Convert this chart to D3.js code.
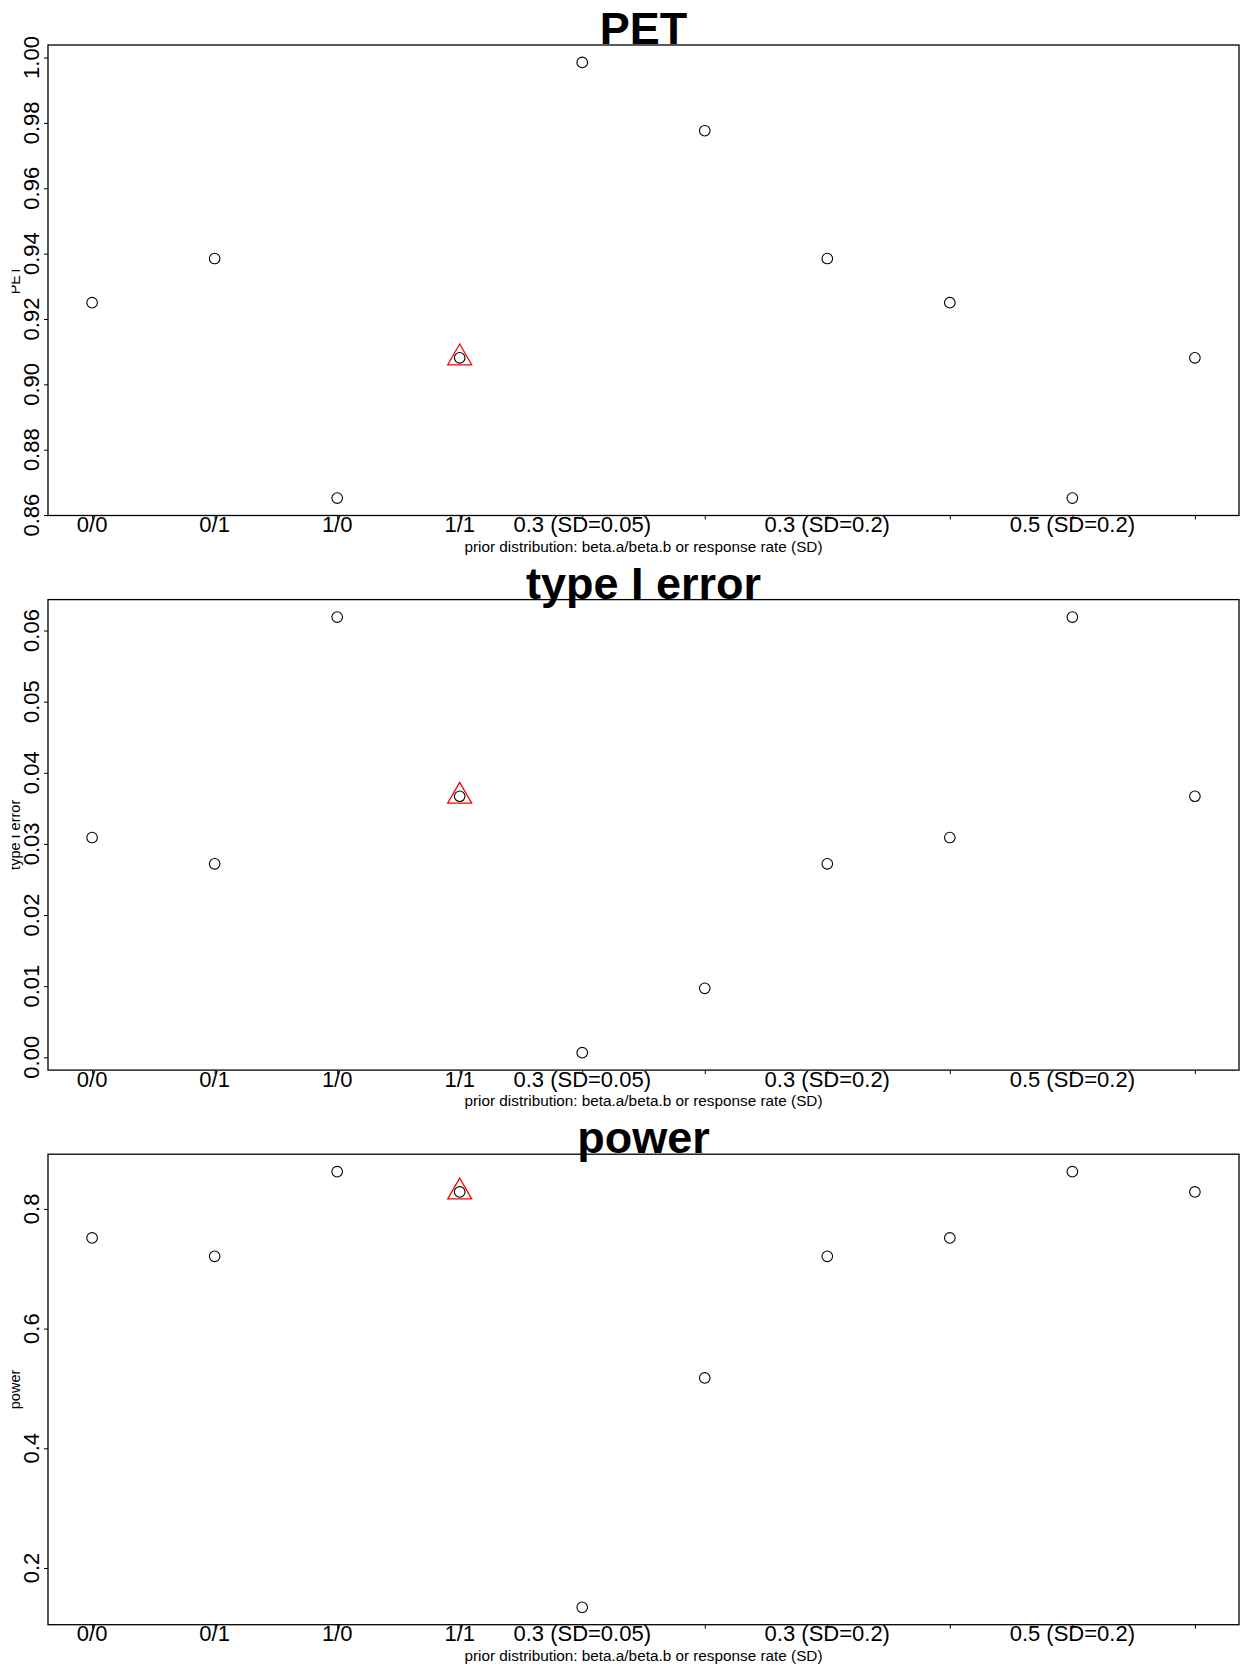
<!DOCTYPE html>
<html>
<head>
<meta charset="utf-8">
<script src="https://cdn.jsdelivr.net/npm/d3@7"></script>
<style>
  body { margin: 0; background: white; }
  text { font-family: "Liberation Sans", Arial, sans-serif; }
</style>
</head>
<body>
<svg id="graph"></svg>
<script>
const width = 1248;
const height = 1669;

// x positions (R style 1..n) and the tick labels that survive overlap
const xPos = [1, 2, 3, 4, 5, 6, 7, 8, 9, 10];
const tickLabels = ["0/0", "0/1", "1/0", "1/1", "0.3 (SD=0.05)", "", "0.3 (SD=0.2)", "", "0.5 (SD=0.2)", ""];
const highlight = 3;   // the 1/1 prior gets the red triangle

const petValues   = [0.925, 0.9385, 0.8652, 0.9081, 0.9985, 0.9776, 0.9385, 0.925, 0.8652, 0.9081];
const typeIValues = [0.0309, 0.0272, 0.0619, 0.0367, 0.00065, 0.0097, 0.0272, 0.0309, 0.0619, 0.0367];
const powerValues = [0.7515, 0.7208, 0.8623, 0.8284, 0.1343, 0.5176, 0.7208, 0.7515, 0.8623, 0.8284];

const petTicks   = [0.86, 0.88, 0.90, 0.92, 0.94, 0.96, 0.98, 1.00];
const typeITicks = [0.00, 0.01, 0.02, 0.03, 0.04, 0.05, 0.06];
const powerTicks = [0.2, 0.4, 0.6, 0.8];

const xTitle = "prior distribution: beta.a/beta.b or response rate (SD)";

let svg = d3.select('#graph')
        .attr('width', width)
        .attr('height', height);

// the y titles are cut on the left in the original
svg.append("defs").append("clipPath").attr("id", "ylabclip")
        .append("rect").attr("x", 11.7).attr("y", 0).attr("width", 40).attr("height", height);

const left = 48;
const right = 1239;
const pitch = 554.6;
const topOff = 45;
const plotH = 470.5;

// same as R: pad the range 4% each side
function pad(ext) {
        let d = (ext[1] - ext[0]) * 0.04;
        return [ext[0] - d, ext[1] + d];
}

let xScale = d3.scaleLinear().domain(pad([1, 10])).range([left, right]);

function addPanel(k, title, values, ticks, fmt) {
        let top = k * pitch + topOff;
        let bottom = top + plotH;
        let yScale = d3.scaleLinear().domain(pad(d3.extent(values))).range([bottom, top]);
        let g = svg.append("g");

        //////// y axis
        let yAxis = d3.axisLeft(yScale).tickValues(ticks).tickSize(4).tickFormat("");
        let ya = g.append("g").attr("transform", `translate(${left},0)`).call(yAxis);
        ya.select(".domain").remove();
        ya.selectAll("line").attr("stroke", "black").attr("stroke-width", 1);

        g.selectAll(".ylab")
                .data(ticks)
                .enter()
                .append("text")
                .attr("transform", d => `translate(38.5,${yScale(d)}) rotate(-90)`)
                .attr("text-anchor", "middle")
                .style("font-size", "22px")
                .text(d => fmt(d));

        //////// x axis
        let xAxis = d3.axisBottom(xScale).tickValues(xPos).tickSize(4).tickFormat("");
        let xa = g.append("g").attr("transform", `translate(0,${bottom})`).call(xAxis);
        xa.select(".domain").remove();
        xa.selectAll("line").attr("stroke", "black").attr("stroke-width", 1);

        g.selectAll(".xlab")
                .data(xPos)
                .enter()
                .append("text")
                .attr("x", d => xScale(d))
                .attr("y", bottom + 16.5)
                .attr("text-anchor", "middle")
                .style("font-size", "22px")
                .text((d, i) => tickLabels[i]);

        g.append("text")
                .attr("x", (left + right) / 2)
                .attr("y", bottom + 36)
                .attr("text-anchor", "middle")
                .style("font-size", "15.3px")
                .text(xTitle);

        g.append("g").attr("clip-path", "url(#ylabclip)")
                .append("text")
                .attr("transform", `translate(20,${(top + bottom) / 2}) rotate(-90)`)
                .attr("text-anchor", "middle")
                .style("font-size", "14.5px")
                .text(title);

        //////// title
        g.append("text")
                .attr("x", (left + right) / 2)
                .attr("y", top - 1)
                .attr("text-anchor", "middle")
                .style("font-size", "45px")
                .style("font-weight", "bold")
                .text(title);

        //////// box
        g.append("rect")
                .attr("x", left)
                .attr("y", top)
                .attr("width", right - left)
                .attr("height", bottom - top)
                .attr("fill", "none")
                .attr("stroke", "black")
                .attr("stroke-width", 1.3);

        //////// points
        g.selectAll(".pt")
                .data(values)
                .enter()
                .append("circle")
                .attr("cx", (d, i) => xScale(xPos[i]))
                .attr("cy", d => yScale(d))
                .attr("r", 5.3)
                .attr("fill", "none")
                .attr("stroke", "black")
                .attr("stroke-width", 1.1);

        g.append("path")
                .attr("d", d3.symbol().type(d3.symbolTriangle).size(249)())
                .attr("transform", `translate(${xScale(xPos[highlight])},${yScale(values[highlight])})`)
                .attr("fill", "none")
                .attr("stroke", "red")
                .attr("stroke-width", 1.3);
}

addPanel(0, "PET", petValues, petTicks, d3.format(".2f"));
addPanel(1, "type I error", typeIValues, typeITicks, d3.format(".2f"));
addPanel(2, "power", powerValues, powerTicks, d3.format(".1f"));
</script>
</body>
</html>
